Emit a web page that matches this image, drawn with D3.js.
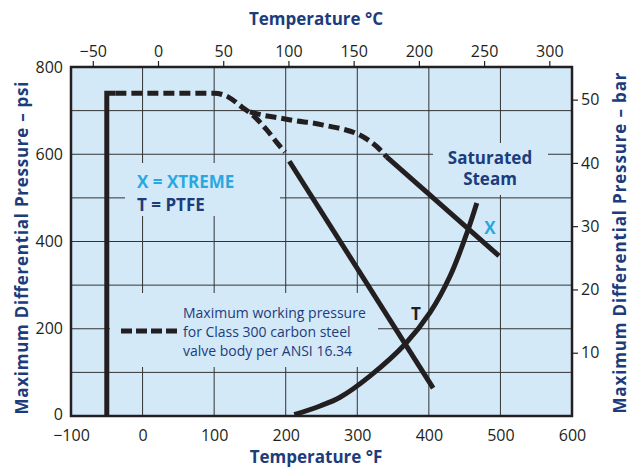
<!DOCTYPE html>
<html>
<head>
<meta charset="utf-8">
<script src="https://cdn.jsdelivr.net/npm/d3@7"></script>
<style>
  body { margin: 0; background: #fff; }
  text { font-family: "Open Sans", sans-serif; }
</style>
</head>
<body>
<div id="chart"></div>
<script>
// axis ticks
const fTicks = [-100, 0, 100, 200, 300, 400, 500, 600];
const cTicks = [-50, 0, 50, 100, 150, 200, 250, 300];
const psiTicks = [0, 200, 400, 600, 800];
const barTicks = [10, 20, 30, 40, 50];
const gridF = [0, 100, 200, 300, 400, 500];
const gridPsi = [100, 200, 300, 400, 500, 600, 700];

// top scale as printed (does not line up exactly with the °F scale)
const cDomain = [-66.7, 317.4];
const psiPerBar = 14.5038;

// low temperature limit (solid)
const lowLimitF = [-50, -50, -38];
const lowLimitPsi = [0, 740, 740];

// ANSI Class 300 envelope, dashed, into the PTFE line
const ansiF = [-38, 100, 120, 139, 157, 174, 188, 199];
const ansiPsi = [740, 740, 731, 708, 685, 655, 626, 605];

// dashed branch leading to the XTREME line
const xDashF = [150, 167, 192, 216, 237, 258, 279, 297, 315, 332, 341];
const xDashPsi = [697, 690, 683, 676, 672, 665, 658, 649, 633, 610, 594];

// solid seat ratings
const ptfeF = [205, 406];
const ptfePsi = [584, 64];
const xtremeF = [341, 498];
const xtremePsi = [594, 367];

// saturated steam curve
const steamF = [212, 248, 276, 318, 367, 402, 430, 455, 467];
const steamPsi = [3, 23, 43, 92, 165, 238, 322, 428, 488];

const navy = "#1c3c7c";
const cyan = "#29a8e0";
const ink = "#231f20";

const W = 638, H = 467;
const margin = {top: 67, right: 66, bottom: 51, left: 71};
const width = W - margin.left - margin.right;
const height = H - margin.top - margin.bottom;

const svg = d3.select("#chart").append("svg")
    .attr("width", W)
    .attr("height", H);

const g = svg.append("g")
    .attr("transform", `translate(${margin.left},${margin.top})`);

const x = d3.scaleLinear().domain([-100, 600]).range([0, width]);
const xc = d3.scaleLinear().domain(cDomain).range([0, width]);
const y = d3.scaleLinear().domain([0, 800]).range([height, 0]);
const yb = d3.scaleLinear().domain([0, 800 / psiPerBar]).range([height, 0]);

// plot background
g.append("rect")
    .attr("width", width)
    .attr("height", height)
    .attr("fill", "#d3e9f8");

// grid
g.selectAll(".vgrid")
    .data(gridF)
    .join("line")
    .attr("x1", d => x(d)).attr("x2", d => x(d))
    .attr("y1", 0).attr("y2", height)
    .attr("stroke", "#333").attr("stroke-width", 1);

g.selectAll(".hgrid")
    .data(gridPsi)
    .join("line")
    .attr("x1", 0).attr("x2", width)
    .attr("y1", d => y(d)).attr("y2", d => y(d))
    .attr("stroke", "#333").attr("stroke-width", 1);

// clear the grid behind the text blocks
const clearBox = (x0, y0, x1, y1) => {
    g.append("rect")
        .attr("x", x0 - margin.left).attr("y", y0 - margin.top)
        .attr("width", x1 - x0).attr("height", y1 - y0)
        .attr("fill", "#d3e9f8");
};
clearBox(125, 163, 280, 216);
clearBox(433, 143, 548, 195);
clearBox(110, 293, 378, 367);

// lines
const line = (xs, ys, curve) => d3.line()
    .x((d, i) => x(xs[i]))
    .y((d, i) => y(ys[i]))
    .curve(curve || d3.curveLinear)(xs);

const drawLine = (xs, ys, dashed, curve) => {
    g.append("path")
        .attr("d", line(xs, ys, curve))
        .attr("fill", "none")
        .attr("stroke", ink)
        .attr("stroke-width", 5)
        .attr("stroke-linejoin", "miter")
        .attr("stroke-dasharray", dashed ? "11,5" : null);
};

drawLine(lowLimitF, lowLimitPsi, false);
drawLine(ansiF, ansiPsi, true, d3.curveMonotoneX);
drawLine(xDashF, xDashPsi, true, d3.curveMonotoneX);
drawLine(ptfeF, ptfePsi, false);
drawLine(xtremeF, xtremePsi, false);
drawLine(steamF, steamPsi, false, d3.curveCatmullRom.alpha(0.5));

// legend sample for dashed line
g.append("line")
    .attr("x1", 121 - margin.left).attr("x2", 177 - margin.left)
    .attr("y1", 331 - margin.top).attr("y2", 331 - margin.top)
    .attr("stroke", ink).attr("stroke-width", 5)
    .attr("stroke-dasharray", "11,4");

// plot frame
g.append("rect")
    .attr("width", width)
    .attr("height", height)
    .attr("fill", "none")
    .attr("stroke", ink)
    .attr("stroke-width", 2.5);

// in-plot text
const label = (txt, px, py, opts) => {
    svg.append("text")
        .attr("x", px).attr("y", py)
        .attr("text-anchor", opts.anchor || "start")
        .attr("dominant-baseline", "central")
        .attr("font-size", opts.size)
        .attr("font-weight", opts.bold ? "bold" : "normal")
        .attr("fill", opts.color)
        .text(txt);
};

label("X = XTREME", 137, 181, {size: 17, bold: true, color: cyan});
label("T = PTFE", 137, 204, {size: 17, bold: true, color: navy});
label("Saturated", 490, 157, {size: 17, bold: true, color: navy, anchor: "middle"});
label("Steam", 490, 178, {size: 17, bold: true, color: navy, anchor: "middle"});
label("X", 490, 227, {size: 17, bold: true, color: cyan, anchor: "middle"});
label("T", 416, 313, {size: 17, bold: true, color: ink, anchor: "middle"});
label("Maximum working pressure", 183, 312, {size: 14, color: navy});
label("for Class 300 carbon steel", 183, 331, {size: 14, color: navy});
label("valve body per ANSI 16.34", 183, 350, {size: 14, color: navy});

// axes
const styleAxis = sel => {
    sel.select(".domain").remove();
    sel.selectAll("text")
        .attr("font-size", 16)
        .attr("fill", ink)
        .attr("font-family", "'Open Sans', sans-serif");
    sel.selectAll("line").attr("stroke", ink).attr("stroke-width", 1.2);
};

g.append("g")
    .attr("transform", `translate(0,${height})`)
    .call(d3.axisBottom(x).tickValues(fTicks).tickSize(0).tickPadding(14).tickFormat(d3.format("d")))
    .call(styleAxis);

g.append("g")
    .call(d3.axisTop(xc).tickValues(cTicks).tickSize(6).tickPadding(4).tickFormat(d3.format("d")))
    .call(styleAxis);

g.append("g")
    .call(d3.axisLeft(y).tickValues(psiTicks).tickSize(0).tickPadding(8).tickFormat(d3.format("d")))
    .call(styleAxis)
    // the corner "0" sits a touch higher so it clears "-100"
    .selectAll(".tick text").filter(d => d === 0).attr("dy", "0.2em");

g.append("g")
    .attr("transform", `translate(${width},0)`)
    .call(d3.axisRight(yb).tickValues(barTicks).tickSize(6).tickPadding(3).tickFormat(d3.format("d")))
    .call(styleAxis);

// axis titles
label("Temperature °C", 316, 18, {size: 17, bold: true, color: navy, anchor: "middle"});
label("Temperature °F", 316, 456, {size: 17, bold: true, color: navy, anchor: "middle"});

const sideTitle = (txt, px, py, len) => {
    svg.append("text")
        .attr("transform", `translate(${px},${py}) rotate(-90)`)
        .attr("text-anchor", "middle")
        .attr("dominant-baseline", "central")
        .attr("font-size", 17)
        .attr("font-weight", "bold")
        .attr("fill", navy)
        .attr("textLength", len)
        .attr("lengthAdjust", "spacing")
        .text(txt);
};
sideTitle("Maximum Differential Pressure – psi", 21, 248, 333);
sideTitle("Maximum Differential Pressure – bar", 619, 243, 341);
</script>
</body>
</html>
